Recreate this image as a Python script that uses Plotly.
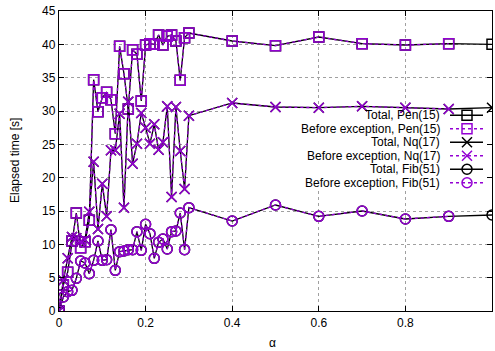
import plotly.graph_objects as go

alpha = [0.00, 0.01, 0.02, 0.03, 0.04, 0.05, 0.06, 0.07, 0.08, 0.09,
         0.10, 0.11, 0.12, 0.13, 0.14, 0.15, 0.16, 0.17, 0.18, 0.19,
         0.20, 0.21, 0.22, 0.23, 0.24, 0.25, 0.26, 0.27, 0.28, 0.29,
         0.30, 0.4, 0.5, 0.6, 0.7, 0.8, 0.9, 1.0]

pen15 = [0.0, 3.9, 5.8, 10.5, 14.7, 9.5, 10.4, 13.6, 34.7, 29.9,
         32.0, 32.8, 31.7, 26.6, 39.7, 35.6, 30.3, 39.2, 38.5, 31.5,
         39.9, 40.1, 40.0, 41.4, 39.9, 41.2, 41.4, 40.5, 34.6, 41.0,
         41.7, 40.5, 39.8, 41.1, 40.1, 39.9, 40.1, 40.0]

nq17 = [0.0, 4.6, 7.9, 11.1, 10.9, 10.4, 10.7, 14.9, 22.4, 12.3,
        19.1, 14.2, 24.1, 24.1, 29.6, 15.5, 31.4, 22.1, 25.1, 29.7,
        27.5, 25.1, 28.0, 24.2, 25.3, 30.7, 17.1, 30.6, 24.0, 18.3,
        29.3, 31.2, 30.6, 30.5, 30.7, 30.5, 30.3, 30.5]

fib51 = [0.0, 2.1, 2.9, 3.1, 4.9, 7.5, 7.2, 5.6, 7.6, 10.5,
         7.6, 7.7, 12.2, 6.1, 8.9, 9.0, 9.2, 9.2, 11.9, 9.1,
         13.0, 11.6, 7.9, 10.3, 10.8, 9.3, 11.9, 12.0, 14.7, 9.2,
         15.5, 13.5, 15.9, 14.2, 15.0, 13.8, 14.2, 14.4]

# "Before exception" series stop before alpha = 1.0
n_before = len(alpha) - 1

series_names = ["Total, Pen(15)", "Before exception, Pen(15)",
                "Total, Nq(17)", "Before exception, Nq(17)",
                "Total, Fib(51)", "Before exception, Fib(51)"]

x_ticks = [0, 0.2, 0.4, 0.6, 0.8, 1]
x_ticktext = ["0", "0.2", "0.4", "0.6", "0.8", "1"]
y_ticks = [0, 5, 10, 15, 20, 25, 30, 35, 40, 45]

BLACK = "#000000"
PURPLE = "#9400D3"
FONT = "Liberation Sans, Arial, sans-serif"

symbols = ["square-open", "x-thin-open", "circle-open"]
msizes = [10, 10, 10]
datasets = [pen15, nq17, fib51]

fig = go.Figure()

styles = []
for i, (data, sym, ms) in enumerate(zip(datasets, symbols, msizes)):
    total_style = dict(line=dict(color=BLACK, width=1.3, dash="solid"),
                       marker=dict(symbol=sym, size=ms, color=BLACK,
                                   line=dict(color=BLACK, width=1.5)))
    before_style = dict(line=dict(color=PURPLE, width=1.3, dash="dot"),
                        marker=dict(symbol=sym, size=ms, color=PURPLE,
                                    line=dict(color=PURPLE, width=1.5)))
    styles += [total_style, before_style]
    fig.add_trace(go.Scatter(x=alpha, y=data, mode="lines+markers",
                             name=series_names[2 * i], showlegend=False,
                             **total_style))
    fig.add_trace(go.Scatter(x=alpha[:n_before], y=data[:n_before],
                             mode="lines+markers",
                             name=series_names[2 * i + 1], showlegend=False,
                             **before_style))

# Custom gnuplot-style key (text, then sample on the right) on an overlay axis
# measured in plot-area pixels
key_rows_y = [195.75, 182.25, 168.75, 155.25, 141.75, 128.25]
key_line_x = [391, 408, 424]
key_text_x = 382

for name, st, ky in zip(series_names, styles, key_rows_y):
    fig.add_trace(go.Scatter(x=key_line_x, y=[ky, ky, ky], mode="lines",
                             xaxis="x2", yaxis="y2", showlegend=False,
                             hoverinfo="skip", line=st["line"]))
    fig.add_trace(go.Scatter(x=[key_line_x[1]], y=[ky], mode="markers",
                             xaxis="x2", yaxis="y2", showlegend=False,
                             hoverinfo="skip", marker=st["marker"]))
    fig.add_annotation(x=key_text_x, y=ky, xref="x2", yref="y2", text=name,
                       showarrow=False, xanchor="right", yanchor="middle",
                       borderpad=0, valign="middle",
                       font=dict(family=FONT, size=12, color=BLACK))

# opaque key background (hides the grid behind the key)
fig.add_shape(type="rect", xref="x", yref="y", x0=0.441, x1=0.997, y0=18.3, y1=30.4,
              fillcolor="white", line=dict(width=0), layer="between")

axis_common = dict(showline=True, linecolor=BLACK, linewidth=1.3, mirror="ticks",
                   ticks="inside", ticklen=5, tickcolor=BLACK, tickwidth=1,
                   showgrid=True, gridcolor="#a0a0a0", griddash="dot", gridwidth=1,
                   zeroline=False, automargin=False,
                   tickfont=dict(family=FONT, size=12, color=BLACK))

fig.update_layout(
    width=495, height=351,
    margin=dict(l=59, r=3, t=11, b=40, pad=0),
    paper_bgcolor="white", plot_bgcolor="white",
    font=dict(family=FONT, size=12, color=BLACK),
    xaxis=dict(range=[0, 1], tickvals=x_ticks, ticktext=x_ticktext, **axis_common),
    yaxis=dict(range=[0, 45], tickvals=y_ticks, **axis_common),
    xaxis2=dict(overlaying="x", range=[0, 433], visible=False, fixedrange=True),
    yaxis2=dict(overlaying="y", range=[0, 300], visible=False, fixedrange=True),
    showlegend=False,
)

fig.add_annotation(x=0.494, y=-0.107, xref="paper", yref="paper", text="α",
                   showarrow=False, xanchor="center", yanchor="middle",
                   font=dict(family=FONT, size=12, color=BLACK))
fig.add_annotation(x=-0.1016, y=0.5, xref="paper", yref="paper",
                   text="Elapsed time [s]", textangle=-90, showarrow=False,
                   xanchor="center", yanchor="middle",
                   font=dict(family=FONT, size=12, color=BLACK))

fig.write_html("out.html")
